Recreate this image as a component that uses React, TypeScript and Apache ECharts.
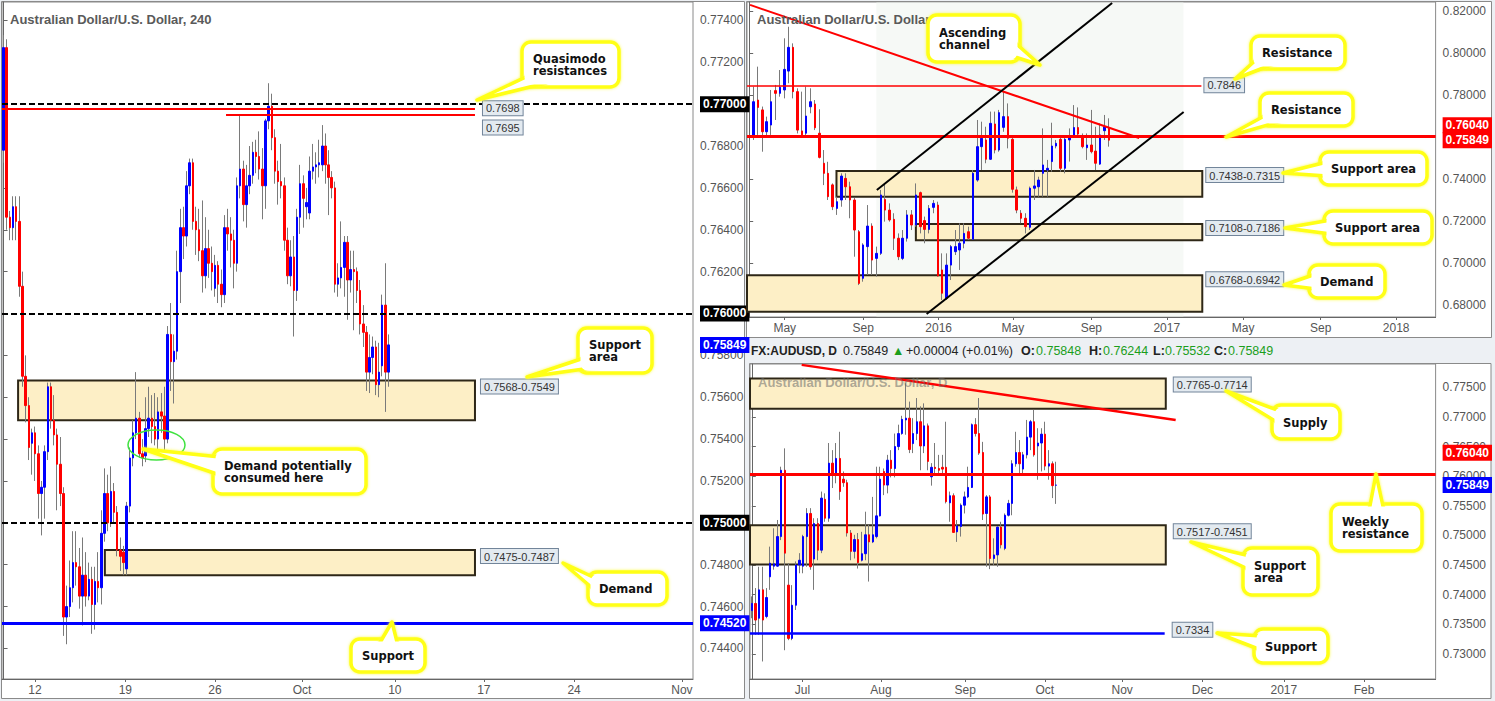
import { useEffect, useRef } from 'react';
import * as echarts from 'echarts';

const FONT = '"Liberation Sans", Arial, sans-serif';
const CFONT = '"DejaVu Sans", Verdana, sans-serif';

// ---------- 4-hour chart: [open, close, low, high]
const h4Candles: number[][] = [
  [0.7678, 0.7727, 0.7672, 0.7733], [0.7727, 0.7646, 0.7640, 0.7731], [0.7646, 0.7641, 0.7635, 0.7649], [0.7641, 0.7651, 0.7635, 0.7656],
  [0.7651, 0.7644, 0.7635, 0.7656], [0.7644, 0.7613, 0.7608, 0.7656], [0.7613, 0.7570, 0.7565, 0.7620], [0.7570, 0.7556, 0.7548, 0.7580],
  [0.7556, 0.7536, 0.7530, 0.7560], [0.7538, 0.7543, 0.7523, 0.7545], [0.7543, 0.7533, 0.7520, 0.7546], [0.7533, 0.7514, 0.7502, 0.7537],
  [0.7514, 0.7517, 0.7494, 0.7520], [0.7517, 0.7534, 0.7502, 0.7537], [0.7534, 0.7565, 0.7530, 0.7567], [0.7565, 0.7549, 0.7545, 0.7567],
  [0.7549, 0.7542, 0.7537, 0.7561], [0.7542, 0.7528, 0.7506, 0.7545], [0.7528, 0.7514, 0.7508, 0.7541], [0.7514, 0.7455, 0.7446, 0.7517],
  [0.7455, 0.7460, 0.7442, 0.7470], [0.7460, 0.7469, 0.7455, 0.7482], [0.7469, 0.7481, 0.7462, 0.7496], [0.7481, 0.7479, 0.7470, 0.7496],
  [0.7479, 0.7465, 0.7459, 0.7488], [0.7465, 0.7475, 0.7451, 0.7493], [0.7475, 0.7465, 0.7460, 0.7486], [0.7465, 0.7473, 0.7463, 0.7481],
  [0.7473, 0.7461, 0.7447, 0.7479], [0.7461, 0.7472, 0.7449, 0.7479], [0.7472, 0.7469, 0.7462, 0.7486], [0.7469, 0.7495, 0.7461, 0.7506],
  [0.7495, 0.7514, 0.7491, 0.7526], [0.7514, 0.7500, 0.7496, 0.7523], [0.7500, 0.7515, 0.7498, 0.7527], [0.7515, 0.7505, 0.7500, 0.7519],
  [0.7505, 0.7487, 0.7484, 0.7508], [0.7487, 0.7484, 0.7477, 0.7493], [0.7486, 0.7481, 0.7475, 0.7489], [0.7478, 0.7508, 0.7475, 0.7510],
  [0.7508, 0.7531, 0.7505, 0.7536], [0.7531, 0.7543, 0.7527, 0.7549], [0.7543, 0.7550, 0.7540, 0.7572], [0.7550, 0.7533, 0.7531, 0.7553],
  [0.7533, 0.7531, 0.7527, 0.7540], [0.7532, 0.7545, 0.7529, 0.7560], [0.7545, 0.7550, 0.7541, 0.7565], [0.7550, 0.7546, 0.7538, 0.7561],
  [0.7546, 0.7540, 0.7537, 0.7562], [0.7540, 0.7553, 0.7535, 0.7560], [0.7553, 0.7551, 0.7543, 0.7562], [0.7551, 0.7540, 0.7534, 0.7565],
  [0.7540, 0.7590, 0.7538, 0.7594], [0.7590, 0.7577, 0.7563, 0.7605], [0.7577, 0.7582, 0.7557, 0.7590], [0.7582, 0.7620, 0.7578, 0.7630],
  [0.7620, 0.7641, 0.7605, 0.7650], [0.7641, 0.7637, 0.7626, 0.7651], [0.7637, 0.7661, 0.7632, 0.7668], [0.7661, 0.7672, 0.7657, 0.7674],
  [0.7672, 0.7644, 0.7640, 0.7674], [0.7644, 0.7640, 0.7628, 0.7651], [0.7640, 0.7630, 0.7625, 0.7650], [0.7630, 0.7618, 0.7610, 0.7654],
  [0.7618, 0.7631, 0.7612, 0.7646], [0.7631, 0.7624, 0.7617, 0.7640], [0.7624, 0.7620, 0.7611, 0.7632], [0.7612, 0.7623, 0.7608, 0.7628],
  [0.7623, 0.7614, 0.7605, 0.7625], [0.7614, 0.7609, 0.7603, 0.7621], [0.7609, 0.7641, 0.7605, 0.7647], [0.7641, 0.7638, 0.7630, 0.7650],
  [0.7638, 0.7635, 0.7622, 0.7646], [0.7635, 0.7624, 0.7612, 0.7640], [0.7624, 0.7661, 0.7620, 0.7665], [0.7661, 0.7669, 0.7655, 0.7695],
  [0.7669, 0.7652, 0.7644, 0.7673], [0.7652, 0.7661, 0.7641, 0.7671], [0.7661, 0.7666, 0.7657, 0.7680], [0.7666, 0.7677, 0.7662, 0.7682],
  [0.7677, 0.7675, 0.7667, 0.7683], [0.7675, 0.7669, 0.7664, 0.7687], [0.7669, 0.7661, 0.7645, 0.7679], [0.7661, 0.7692, 0.7650, 0.7693],
  [0.7692, 0.7699, 0.7688, 0.7710], [0.7699, 0.7684, 0.7678, 0.7705], [0.7684, 0.7668, 0.7662, 0.7688], [0.7668, 0.7663, 0.7652, 0.7673],
  [0.7663, 0.7661, 0.7655, 0.7681], [0.7661, 0.7635, 0.7630, 0.7665], [0.7635, 0.7618, 0.7614, 0.7641], [0.7618, 0.7627, 0.7613, 0.7635],
  [0.7627, 0.7611, 0.7589, 0.7637], [0.7611, 0.7646, 0.7606, 0.7650], [0.7646, 0.7662, 0.7638, 0.7671], [0.7662, 0.7655, 0.7641, 0.7666],
  [0.7651, 0.7653, 0.7645, 0.7660], [0.7648, 0.7668, 0.7645, 0.7675], [0.7668, 0.7670, 0.7664, 0.7681], [0.7670, 0.7671, 0.7662, 0.7677],
  [0.7671, 0.7672, 0.7665, 0.7683], [0.7671, 0.7680, 0.7668, 0.7690], [0.7680, 0.7671, 0.7662, 0.7686], [0.7671, 0.7665, 0.7647, 0.7678],
  [0.7665, 0.7660, 0.7655, 0.7668], [0.7660, 0.7614, 0.7610, 0.7663], [0.7614, 0.7617, 0.7608, 0.7624], [0.7617, 0.7622, 0.7612, 0.7644],
  [0.7622, 0.7634, 0.7608, 0.7637], [0.7634, 0.7616, 0.7597, 0.7637], [0.7616, 0.7621, 0.7610, 0.7630], [0.7621, 0.7620, 0.7592, 0.7630],
  [0.7620, 0.7611, 0.7605, 0.7622], [0.7611, 0.7595, 0.7590, 0.7616], [0.7595, 0.7591, 0.7584, 0.7604], [0.7591, 0.7572, 0.7563, 0.7594],
  [0.7572, 0.7579, 0.7562, 0.7590], [0.7579, 0.7584, 0.7571, 0.7589], [0.7584, 0.7566, 0.7561, 0.7587], [0.7566, 0.7572, 0.7560, 0.7586],
  [0.7575, 0.7604, 0.7570, 0.7609], [0.7604, 0.7572, 0.7553, 0.7624], [0.7572, 0.7585, 0.7565, 0.7590],
];
const h4XLabels = ['12', '19', '26', 'Oct', '10', '17', '24', 'Nov'];
const h4XLabelPos = [9.96, 38.6, 67.0, 94.6, 124.0, 152.2, 180.8, 215.0];
const h4YTicks = [0.744, 0.746, 0.748, 0.75, 0.752, 0.754, 0.756, 0.758, 0.76, 0.762, 0.764, 0.766, 0.768, 0.77, 0.772, 0.774];
const h4RoundLevels = [0.77, 0.76, 0.75];
const h4Support = 0.7452;
const h4Quasimodo = [0.7698, 0.7695];
const h4Zones = [
  { name: '0.7568-0.7549', top: 0.7568, bottom: 0.7549, from: 4.6, to: 149.4 },
  { name: '0.7475-0.7487', top: 0.7487, bottom: 0.7475, from: 32.1, to: 149.4 },
];
const lastClose = 0.75849;

// ---------- Weekly chart
const wCandles: number[][] = [
  [0.7602, 0.7768, 0.7586, 0.7840], [0.7776, 0.7741, 0.7610, 0.7935], [0.7729, 0.7625, 0.7530, 0.7745], [0.7625, 0.7673, 0.7602, 0.7697],
  [0.7657, 0.7768, 0.7610, 0.7824], [0.7821, 0.7808, 0.7681, 0.7848], [0.7808, 0.7837, 0.7792, 0.7919], [0.7824, 0.7922, 0.7784, 0.8070],
  [0.7914, 0.8027, 0.7856, 0.8125], [0.8027, 0.7816, 0.7784, 0.8046], [0.7816, 0.7633, 0.7617, 0.7832], [0.7629, 0.7610, 0.7598, 0.7816],
  [0.7618, 0.7700, 0.7605, 0.7840], [0.7744, 0.7768, 0.7713, 0.7832], [0.7757, 0.7644, 0.7633, 0.7776], [0.7618, 0.7503, 0.7498, 0.7732],
  [0.7475, 0.7427, 0.7371, 0.7538], [0.7427, 0.7316, 0.7300, 0.7482], [0.7372, 0.7268, 0.7252, 0.7379], [0.7260, 0.7292, 0.7229, 0.7316],
  [0.7300, 0.7414, 0.7268, 0.7427], [0.7403, 0.7363, 0.7300, 0.7427], [0.7363, 0.7300, 0.7213, 0.7387], [0.7300, 0.7157, 0.7030, 0.7310],
  [0.7149, 0.6903, 0.6895, 0.7157], [0.6927, 0.7086, 0.6911, 0.7094], [0.7078, 0.7176, 0.6943, 0.7276], [0.7176, 0.7014, 0.6943, 0.7189],
  [0.7022, 0.7046, 0.6935, 0.7078], [0.7046, 0.7324, 0.7038, 0.7348], [0.7303, 0.7252, 0.7197, 0.7379], [0.7252, 0.7205, 0.7197, 0.7284],
  [0.7208, 0.7118, 0.7062, 0.7237], [0.7118, 0.7030, 0.7014, 0.7141], [0.7022, 0.7118, 0.7014, 0.7157], [0.7118, 0.7229, 0.7102, 0.7252],
  [0.7229, 0.7181, 0.7157, 0.7252], [0.7181, 0.7324, 0.7173, 0.7379], [0.7335, 0.7173, 0.7141, 0.7340], [0.7202, 0.7160, 0.7094, 0.7221],
  [0.7160, 0.7260, 0.7141, 0.7276], [0.7265, 0.7284, 0.7237, 0.7300], [0.7276, 0.6938, 0.6935, 0.7292], [0.6967, 0.6856, 0.6824, 0.7046],
  [0.6832, 0.6990, 0.6824, 0.7046], [0.6990, 0.7078, 0.6919, 0.7086], [0.7054, 0.7078, 0.7038, 0.7157], [0.7062, 0.7094, 0.6967, 0.7189],
  [0.7094, 0.7141, 0.7070, 0.7189], [0.7149, 0.7118, 0.7110, 0.7173], [0.7113, 0.7427, 0.7110, 0.7443], [0.7395, 0.7554, 0.7387, 0.7681],
  [0.7554, 0.7594, 0.7443, 0.7673], [0.7586, 0.7494, 0.7475, 0.7649], [0.7494, 0.7665, 0.7491, 0.7721], [0.7662, 0.7538, 0.7522, 0.7721],
  [0.7538, 0.7716, 0.7530, 0.7729], [0.7646, 0.7697, 0.7625, 0.7816], [0.7697, 0.7594, 0.7546, 0.7760], [0.7589, 0.7351, 0.7335, 0.7602],
  [0.7348, 0.7252, 0.7237, 0.7364], [0.7237, 0.7213, 0.7189, 0.7252], [0.7213, 0.7173, 0.7141, 0.7237], [0.7170, 0.7356, 0.7157, 0.7364],
  [0.7356, 0.7367, 0.7300, 0.7443], [0.7363, 0.7395, 0.7316, 0.7411], [0.7427, 0.7467, 0.7316, 0.7641], [0.7443, 0.7451, 0.7316, 0.7491],
  [0.7483, 0.7557, 0.7435, 0.7668], [0.7557, 0.7570, 0.7546, 0.7586], [0.7589, 0.7451, 0.7435, 0.7602], [0.7451, 0.7589, 0.7427, 0.7602],
  [0.7586, 0.7602, 0.7483, 0.7641], [0.7605, 0.7645, 0.7598, 0.7752], [0.7645, 0.7614, 0.7602, 0.7741], [0.7605, 0.7554, 0.7546, 0.7617],
  [0.7549, 0.7562, 0.7491, 0.7617], [0.7562, 0.7530, 0.7522, 0.7729], [0.7533, 0.7475, 0.7443, 0.7649], [0.7471, 0.7610, 0.7467, 0.7665],
  [0.7630, 0.7649, 0.7586, 0.7705], [0.7641, 0.7585, 0.7554, 0.7689],
];
const wXLabels = ['May', 'Sep', '2016', 'May', 'Sep', '2017', 'May', 'Sep', '2018'];
const wXLabelPos = [8.1, 26.0, 43.2, 60.1, 78.0, 95.2, 112.6, 130.3, 147.5];
const wYTicks = [0.68, 0.7, 0.72, 0.74, 0.76, 0.78, 0.8, 0.82];
const weeklyResistance = 0.7604;
const wUpperResistance = 0.7846;
const wZones = [
  { name: '0.7438-0.7315', top: 0.7438, bottom: 0.7315, from: 19.9 },
  { name: '0.7108-0.7186', top: 0.7186, bottom: 0.7108, from: 38.0 },
  { name: '0.6768-0.6942', top: 0.6942, bottom: 0.6768, from: -0.5 },
];
const wZoneEnd = 103.3;
const wTrend = [[0.2, 0.8229], [88.9, 0.7595]];
const wChannelUpper = [[29.1, 0.7348], [82.75, 0.8238]];
const wChannelLower = [[40.45, 0.6757], [99.05, 0.7719]];

// ---------- Daily chart
const dCandles: number[][] = [
  [0.7373, 0.7385, 0.7360, 0.7397], [0.7385, 0.7357, 0.7332, 0.7411], [0.7360, 0.7408, 0.7332, 0.7447], [0.7408, 0.7357, 0.7287, 0.7447],
  [0.7363, 0.7395, 0.7360, 0.7411], [0.7430, 0.7453, 0.7408, 0.7481], [0.7448, 0.7452, 0.7442, 0.7512], [0.7448, 0.7498, 0.7447, 0.7526],
  [0.7498, 0.7610, 0.7492, 0.7616], [0.7610, 0.7470, 0.7306, 0.7647], [0.7416, 0.7326, 0.7323, 0.7453], [0.7326, 0.7382, 0.7323, 0.7416],
  [0.7382, 0.7450, 0.7374, 0.7456], [0.7450, 0.7458, 0.7436, 0.7470], [0.7448, 0.7498, 0.7436, 0.7501], [0.7498, 0.7537, 0.7447, 0.7546],
  [0.7537, 0.7447, 0.7442, 0.7546], [0.7460, 0.7520, 0.7408, 0.7529], [0.7520, 0.7475, 0.7458, 0.7529], [0.7475, 0.7563, 0.7470, 0.7574],
  [0.7561, 0.7529, 0.7523, 0.7571], [0.7529, 0.7622, 0.7523, 0.7656], [0.7622, 0.7605, 0.7580, 0.7644], [0.7605, 0.7630, 0.7588, 0.7656],
  [0.7630, 0.7574, 0.7560, 0.7675], [0.7595, 0.7589, 0.7582, 0.7608], [0.7589, 0.7504, 0.7498, 0.7594], [0.7504, 0.7473, 0.7458, 0.7509],
  [0.7473, 0.7493, 0.7461, 0.7501], [0.7493, 0.7454, 0.7444, 0.7504], [0.7458, 0.7469, 0.7456, 0.7506], [0.7469, 0.7501, 0.7458, 0.7540],
  [0.7501, 0.7489, 0.7422, 0.7518], [0.7489, 0.7501, 0.7487, 0.7565], [0.7498, 0.7533, 0.7495, 0.7616], [0.7533, 0.7595, 0.7532, 0.7616],
  [0.7608, 0.7585, 0.7568, 0.7613], [0.7585, 0.7627, 0.7571, 0.7636], [0.7627, 0.7613, 0.7598, 0.7644], [0.7613, 0.7650, 0.7598, 0.7672],
  [0.7650, 0.7672, 0.7644, 0.7687], [0.7672, 0.7696, 0.7670, 0.7702], [0.7695, 0.7698, 0.7670, 0.7757], [0.7698, 0.7645, 0.7639, 0.7726],
  [0.7655, 0.7672, 0.7639, 0.7698], [0.7672, 0.7692, 0.7661, 0.7732], [0.7692, 0.7651, 0.7610, 0.7718], [0.7651, 0.7685, 0.7639, 0.7723],
  [0.7685, 0.7625, 0.7610, 0.7689], [0.7599, 0.7615, 0.7584, 0.7622], [0.7615, 0.7613, 0.7605, 0.7656], [0.7613, 0.7610, 0.7602, 0.7636],
  [0.7615, 0.7612, 0.7605, 0.7636], [0.7615, 0.7557, 0.7554, 0.7692], [0.7555, 0.7567, 0.7523, 0.7574], [0.7567, 0.7505, 0.7504, 0.7571],
  [0.7506, 0.7516, 0.7489, 0.7526], [0.7515, 0.7551, 0.7498, 0.7554], [0.7551, 0.7565, 0.7537, 0.7574], [0.7565, 0.7581, 0.7563, 0.7616],
  [0.7581, 0.7687, 0.7580, 0.7689], [0.7687, 0.7672, 0.7667, 0.7698], [0.7672, 0.7639, 0.7636, 0.7732], [0.7640, 0.7536, 0.7526, 0.7658],
  [0.7537, 0.7565, 0.7447, 0.7568], [0.7565, 0.7461, 0.7443, 0.7568], [0.7461, 0.7467, 0.7450, 0.7495], [0.7467, 0.7514, 0.7447, 0.7515],
  [0.7514, 0.7484, 0.7478, 0.7523], [0.7478, 0.7534, 0.7475, 0.7537], [0.7534, 0.7554, 0.7532, 0.7560], [0.7554, 0.7621, 0.7534, 0.7627],
  [0.7621, 0.7640, 0.7616, 0.7675], [0.7640, 0.7621, 0.7605, 0.7661], [0.7612, 0.7636, 0.7605, 0.7641], [0.7636, 0.7666, 0.7630, 0.7695],
  [0.7666, 0.7692, 0.7644, 0.7695], [0.7692, 0.7636, 0.7633, 0.7712], [0.7651, 0.7656, 0.7594, 0.7681], [0.7656, 0.7671, 0.7608, 0.7681],
  [0.7671, 0.7617, 0.7610, 0.7692], [0.7617, 0.7621, 0.7594, 0.7644], [0.7621, 0.7584, 0.7563, 0.7625], [0.75848, 0.75849, 0.75532, 0.76244],
];
const dXLabels = ['Jul', 'Aug', 'Sep', 'Oct', 'Nov', 'Dec', '2017', 'Feb'];
const dXLabelPos = [13.8, 35.2, 58.2, 79.9, 101.0, 122.9, 145.1, 167.0];
const dYTicks = [0.73, 0.735, 0.74, 0.745, 0.75, 0.755, 0.76, 0.765, 0.77, 0.775];
const dZones = [
  { name: '0.7765-0.7714', top: 0.7765, bottom: 0.7714 },
  { name: '0.7517-0.7451', top: 0.7517, bottom: 0.7451 },
];
const dZoneEnd = 112.9;
const dSupport = 0.7334;
const dTrend = [[13.6, 0.7788], [115.6, 0.7695]];

// ---------- Callouts
type Callout = { box: number[]; tip: number[]; base: number[][]; text: string };
const callouts: Callout[] = [
  { box: [522, 42, 97, 45], tip: [477, 100], base: [[528, 76], [546, 83]], text: 'Quasimodo\nresistances' },
  { box: [578, 328, 74, 45], tip: [527, 377], base: [[584, 358], [598, 367]], text: 'Support\narea' },
  { box: [213, 449, 153, 45], tip: [143, 449], base: [[220, 457], [220, 475]], text: 'Demand potentially\nconsumed here' },
  { box: [588, 572, 79, 33], tip: [563, 563], base: [[595, 578], [597, 592]], text: 'Demand' },
  { box: [351, 639, 74, 33], tip: [392, 622], base: [[378, 646], [398, 646]], text: 'Support' },
  { box: [928, 15, 92, 47], tip: [1040, 65], base: [[1012, 40], [1012, 56]], text: 'Ascending\nchannel' },
  { box: [1251, 36, 94, 33], tip: [1235, 79], base: [[1258, 58], [1276, 63]], text: 'Resistance' },
  { box: [1260, 93, 93, 33], tip: [1226, 137], base: [[1266, 115], [1285, 120]], text: 'Resistance' },
  { box: [1320, 152, 107, 33], tip: [1283, 173], base: [[1327, 162], [1327, 176]], text: 'Support area' },
  { box: [1324, 211, 108, 33], tip: [1285, 228], base: [[1331, 220], [1331, 234]], text: 'Support area' },
  { box: [1309, 265, 76, 33], tip: [1284, 285], base: [[1316, 274], [1316, 289]], text: 'Demand' },
  { box: [1272, 405, 68, 34], tip: [1226, 391], base: [[1280, 411], [1280, 424]], text: 'Supply' },
  { box: [1331, 504, 91, 47], tip: [1376, 474], base: [[1369, 511], [1384, 511]], text: 'Weekly\nresistance' },
  { box: [1243, 548, 75, 47], tip: [1191, 542], base: [[1250, 556], [1250, 570]], text: 'Support\narea' },
  { box: [1254, 629, 74, 34], tip: [1217, 633], base: [[1261, 636], [1261, 650]], text: 'Support' },
];

const UP = '#0000ff';
const DOWN = '#ff0000';
const WICK = '#7a7a7a';
const ZONE_FILL = '#fdefc6';
const ZONE_BORDER = '#2e2717';
const TAG_BG = '#e3eaf0';
const TAG_BORDER = '#72859a';
const AXIS = '#666';
const LABEL = '#555';

const near = (a: number, b: number) => Math.abs(a - b) < 1e-7;

const tagStyle = {
  color: '#333', fontSize: 11, fontFamily: FONT, backgroundColor: TAG_BG,
  borderColor: TAG_BORDER, borderWidth: 1, padding: [2, 3, 1, 3],
};

const hlRich = {
  k: { backgroundColor: '#000', color: '#fff', fontWeight: 'bold', fontSize: 12, fontFamily: FONT, padding: [2, 3, 2, 3] },
  b: { backgroundColor: '#0000ff', color: '#fff', fontWeight: 'bold', fontSize: 12, fontFamily: FONT, padding: [2, 3, 2, 3] },
  r: { backgroundColor: '#ff0000', color: '#fff', fontWeight: 'bold', fontSize: 12, fontFamily: FONT, padding: [2, 3, 2, 3] },
  g22: { height: 22, lineHeight: 22 },
  g42: { height: 42, lineHeight: 42 },
};

type Special = { v: number; s: string; g?: string };

const specialFormatter = (specials: Special[]) => (v: number) => {
  const sp = specials.find((s) => near(s.v, v));
  const t = v.toFixed(5);
  if (!sp) return t;
  return sp.g ? `{${sp.s}|${t}}\n{${sp.g}|\u00a0}` : `{${sp.s}|${t}}`;
};

function yAxis(idx: number, min: number, max: number, ticks: number[], labels: number[], specials: Special[], margin: number) {
  return {
    type: 'value', gridIndex: idx, position: 'right', min, max,
    splitLine: { show: false },
    axisLine: { show: true, lineStyle: { color: AXIS } },
    axisTick: { show: true, length: 4, lineStyle: { color: AXIS }, customValues: ticks },
    axisLabel: {
      margin, color: LABEL, fontSize: 12, fontFamily: FONT, showMinLabel: true, showMaxLabel: true, hideOverlap: false,
      customValues: [...labels, ...specials.map((s) => s.v)],
      formatter: specialFormatter(specials),
      rich: hlRich,
    },
  };
}

// an extra, invisible y axis that only carries one highlighted price label
function badgeAxis(idx: number, min: number, max: number, sp: Special, margin: number) {
  return {
    type: 'value', gridIndex: idx, position: 'right', min, max,
    splitLine: { show: false }, axisLine: { show: false }, axisTick: { show: false },
    axisLabel: {
      margin, fontSize: 12, fontFamily: FONT, showMinLabel: true, showMaxLabel: true,
      customValues: [sp.v], formatter: specialFormatter([sp]), rich: hlRich,
    },
  };
}

function xAxis(idx: number, n: number, pos: number[], labels: string[]) {
  return {
    type: 'value', gridIndex: idx, min: -0.5, max: n - 0.5,
    splitLine: { show: false },
    axisLine: { show: true, lineStyle: { color: AXIS } },
    axisTick: { show: true, length: 3, lineStyle: { color: AXIS }, customValues: pos },
    axisLabel: {
      margin: 5, color: LABEL, fontSize: 12, fontFamily: FONT, customValues: pos, showMinLabel: true, showMaxLabel: true,
      formatter: (v: number) => {
        const i = pos.findIndex((p) => Math.abs(p - v) < 1e-6);
        return i >= 0 ? labels[i] : '';
      },
    },
  };
}

function candleSeries(idx: number, candles: number[][], offset: number, markArea: any, markLine: any) {
  const wicks = candles.map((c, i) => [i + offset, c[2], c[3], c[2], c[3]]);
  const bodies = candles.map((c, i) => [i + offset, c[0], c[1], Math.min(c[0], c[1]), Math.max(c[0], c[1])]);
  return [
    {
      type: 'candlestick', xAxisIndex: idx, yAxisIndex: idx, data: wicks, barWidth: 1, silent: true,
      itemStyle: { color: WICK, color0: WICK, borderColor: WICK, borderColor0: WICK, borderWidth: 1 },
      markArea,
    },
    {
      type: 'candlestick', xAxisIndex: idx, yAxisIndex: idx, data: bodies, barWidth: 2, silent: true,
      itemStyle: { color: UP, color0: DOWN, borderColor: UP, borderColor0: DOWN, borderWidth: 1 },
      markLine,
    },
  ];
}

const dashed = { color: '#000', width: 2, type: [6, 3] };
const red = (w: number) => ({ color: '#ff0000', width: w, type: 'solid' });
const blue = (w: number) => ({ color: '#0000ff', width: w, type: 'solid' });
const black = (w: number) => ({ color: '#000', width: w, type: 'solid' });
const noLabel = { show: false };

function zoneItem(name: string, x0: number | undefined, top: number, x1: number, bottom: number, off: number[]) {
  const first: any = { name, yAxis: top, label: { show: true, position: ['100%', 0], offset: off, formatter: '{b}', ...tagStyle } };
  if (x0 !== undefined) first.xAxis = x0;
  return [first, { xAxis: x1, yAxis: bottom }];
}

function seg(p0: number[], p1: number[], lineStyle: any, label: any = noLabel) {
  return [{ coord: p0, lineStyle, label }, { coord: p1 }];
}

const markAreaBase = { silent: true, itemStyle: { color: ZONE_FILL, borderColor: ZONE_BORDER, borderWidth: 2 }, label: { show: false } };
const markLineBase = { silent: true, symbol: ['none', 'none'], precision: 6, label: { show: false }, animation: false };

function calloutEls(c: Callout) {
  const [x, y, w, h] = c.box;
  const stroke = '#ffff12';
  const glow = { shadowBlur: 3, shadowColor: 'rgba(250,250,60,0.9)' };
  return [
    { type: 'rect', z: 100, shape: { x, y, width: w, height: h, r: 9 }, style: { fill: '#fff', stroke, lineWidth: 3.5, ...glow } },
    { type: 'polygon', z: 101, shape: { points: [c.base[0], c.tip, c.base[1]] }, style: { fill: '#fff', stroke, lineWidth: 3.5, lineJoin: 'round', ...glow } },
    { type: 'rect', z: 102, shape: { x: x + 2.5, y: y + 2.5, width: w - 5, height: h - 5, r: 7 }, style: { fill: '#fff' } },
    {
      type: 'text', z: 103,
      style: { text: c.text, x: x + 11, y: y + h / 2 + 0.5, fill: '#111', font: `bold 11.5px ${CFONT}`, align: 'left', verticalAlign: 'middle', lineHeight: 12 },
    },
  ];
}

function txt(text: string, x: number, y: number, font: string, fill: string, z = 20, opacity = 1) {
  return { type: 'text', z, style: { text, x, y, font, fill, opacity, align: 'left', verticalAlign: 'middle' } };
}

function buildOption() {
  const grids = [
    { left: 2, top: 2, width: 691, height: 677 },
    { left: 747, top: 2, width: 694, height: 315 },
    { left: 750, top: 364, width: 691, height: 315 },
  ].map((g) => ({ ...g, show: true, borderColor: '#8a8a8a', borderWidth: 1, backgroundColor: 'transparent' }));

  const h4Labels = h4YTicks.filter((t) => !h4RoundLevels.some((r) => near(r, t)));
  const h4Specials: Special[] = [
    ...h4RoundLevels.map((v) => ({ v, s: 'k' })),
    { v: lastClose, s: 'b' },
    { v: h4Support, s: 'b' },
  ];
  const wLabels = wYTicks.filter((t) => !near(t, 0.76));
  const wRange = [0.67429, 0.82429];
  const dRange = [0.72574, 0.77895];

  // 4H markers
  const h4Area = {
    ...markAreaBase,
    data: h4Zones.map((z) => zoneItem(z.name, z.from, z.top, z.to, z.bottom, [5, 0])),
  };
  const quasiEnd = h4Zones[0].to;
  const h4Line = {
    ...markLineBase,
    data: [
      ...h4RoundLevels.map((v) => ({ yAxis: v, lineStyle: dashed })),
      seg([-0.5, h4Quasimodo[0]], [quasiEnd, h4Quasimodo[0]], red(2), { show: true, position: 'end', distance: 8, formatter: '0.7698', ...tagStyle }),
      seg([70.5, h4Quasimodo[1]], [quasiEnd, h4Quasimodo[1]], red(2), {
        show: true, position: 'end', distance: 8, formatter: '{g|\u00a0}\n{t|0.7695}',
        rich: { g: { height: 26, lineHeight: 26 }, t: { ...tagStyle } },
      }),
      { yAxis: h4Support, lineStyle: blue(3) },
    ],
  };

  // Weekly markers
  const wArea = {
    ...markAreaBase,
    data: [
      [{ xAxis: 29, itemStyle: { color: 'rgba(236,241,236,0.45)', borderWidth: 0 }, label: { show: false } }, { xAxis: 99 }],
      ...wZones.map((z) => zoneItem(z.name, z.from, z.top, wZoneEnd, z.bottom, [3, -2])),
    ],
  };
  const wLine = {
    ...markLineBase,
    data: [
      seg(wTrend[0], wTrend[1], red(2)),
      seg([-0.5, wUpperResistance], [103.1, wUpperResistance], red(1.5), { show: true, position: 'end', distance: 3, formatter: '0.7846', ...tagStyle }),
      { yAxis: weeklyResistance, lineStyle: red(3) },
      seg(wChannelUpper[0], wChannelUpper[1], black(2)),
      seg(wChannelLower[0], wChannelLower[1], black(2)),
    ],
  };

  // Daily markers
  const dArea = {
    ...markAreaBase,
    data: dZones.map((z) => zoneItem(z.name, undefined, z.top, dZoneEnd, z.bottom, [7, 0])),
  };
  const dLine = {
    ...markLineBase,
    data: [
      seg(dTrend[0], dTrend[1], red(2.5)),
      { yAxis: weeklyResistance, lineStyle: red(3) },
      seg([-0.5, dSupport], [112.6, dSupport], blue(2.5), {
        show: true, position: 'end', distance: 8, formatter: '{t|0.7334}\n{g|\u00a0}',
        rich: { g: { height: 8, lineHeight: 8 }, t: { ...tagStyle } },
      }),
    ],
  };

  const green = '#1c9e1c';
  const hf = (w: string) => `${w} 12.5px ${FONT}`;
  const graphic: any[] = [
    // panels
    { type: 'rect', z: -10, shape: { x: 1.5, y: 1.5, width: 743, height: 697 }, style: { fill: '#fff', stroke: '#8a8a8a', lineWidth: 1 } },
    { type: 'rect', z: -10, shape: { x: 746.5, y: 1.5, width: 745, height: 336 }, style: { fill: '#fff', stroke: '#8a8a8a', lineWidth: 1 } },
    { type: 'rect', z: -10, shape: { x: 749.5, y: 363.5, width: 741.5, height: 335 }, style: { fill: '#fff', stroke: '#8a8a8a', lineWidth: 1 } },
    // titles
    txt('Australian Dollar/U.S. Dollar, 240', 10, 19, `bold 13px ${FONT}`, '#5a5a5a'),
    txt('Australian Dollar/U.S. Dollar, W', 757, 19, `bold 13px ${FONT}`, '#5a5a5a'),
    txt('Australian Dollar/U.S. Dollar, D', 758, 382, `bold 13px ${FONT}`, '#6a6a6a', 20, 0.55),
    // daily header
    txt('FX:AUDUSD, D', 751, 351, `bold 12px ${FONT}`, '#222'),
    txt('0.75849', 843, 351, hf('normal'), '#222'),
    txt('\u25B2', 892, 351, hf('normal'), green),
    txt('+0.00004 (+0.01%)', 906, 351, hf('normal'), '#222'),
    txt('O:', 1021, 351, hf('bold'), '#222'),
    txt('0.75848', 1036, 351, hf('normal'), green),
    txt('H:', 1089, 351, hf('bold'), '#222'),
    txt('0.76244', 1103, 351, hf('normal'), green),
    txt('L:', 1153, 351, hf('bold'), '#222'),
    txt('0.75532', 1165, 351, hf('normal'), green),
    txt('C:', 1214, 351, hf('bold'), '#222'),
    txt('0.75849', 1228, 351, hf('normal'), green),
    // green ellipse
    { type: 'ellipse', z: 90, shape: { cx: 156.5, cy: 445, rx: 28.5, ry: 15 }, style: { fill: 'none', stroke: '#3fe23f', lineWidth: 1.5 } },
    ...callouts.flatMap(calloutEls),
  ];

  return {
    animation: false,
    backgroundColor: '#edf0f4',
    grid: grids,
    xAxis: [
      xAxis(0, 219, h4XLabelPos, h4XLabels),
      xAxis(1, 157, wXLabelPos, wXLabels),
      xAxis(2, 187, dXLabelPos, dXLabels),
    ],
    yAxis: [
      yAxis(0, 0.74254, 0.77488, h4YTicks, h4Labels, h4Specials, 7),
      yAxis(1, wRange[0], wRange[1], wYTicks, wLabels, [], 7),
      yAxis(2, dRange[0], dRange[1], dYTicks, dYTicks, [], 7),
      badgeAxis(1, wRange[0], wRange[1], { v: lastClose, s: 'r' }, 7),
      badgeAxis(1, wRange[0], wRange[1], { v: weeklyResistance, s: 'r', g: 'g22' }, 7),
      badgeAxis(2, dRange[0], dRange[1], { v: weeklyResistance, s: 'r', g: 'g42' }, 7),
      badgeAxis(2, dRange[0], dRange[1], { v: lastClose, s: 'b' }, 7),
    ],
    series: [
      ...candleSeries(0, h4Candles, 0, h4Area, h4Line),
      ...candleSeries(1, wCandles, 1, wArea, wLine),
      ...candleSeries(2, dCandles, 0, dArea, dLine),
    ],
    graphic,
  };
}

export default function App() {
  const ref = useRef<HTMLDivElement>(null);
  useEffect(() => {
    document.body.style.margin = '0';
    const chart = echarts.init(ref.current!, null, { renderer: 'svg' });
    chart.setOption(buildOption() as any);
    return () => chart.dispose();
  }, []);
  return <div ref={ref} style={{ width: 1495, height: 701 }} />;
}
